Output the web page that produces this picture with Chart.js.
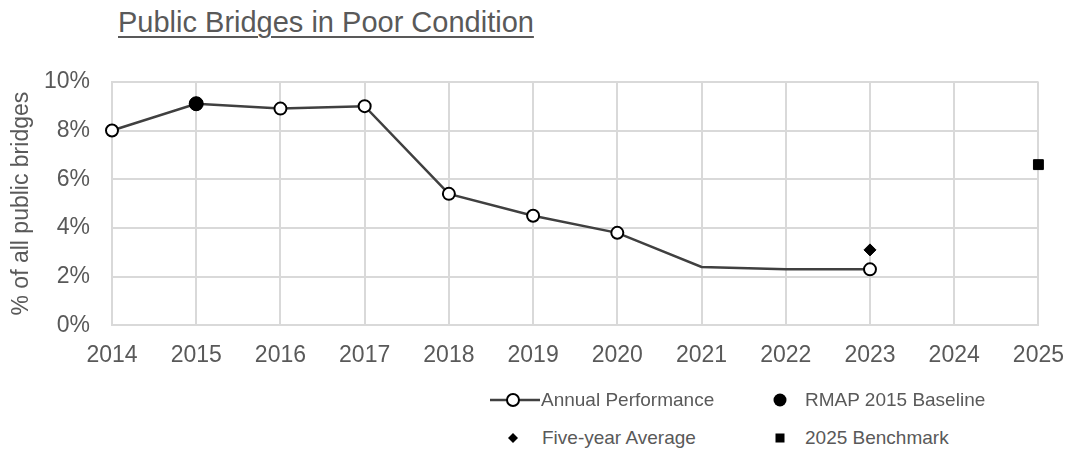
<!DOCTYPE html>
<html>
<head>
<meta charset="utf-8">
<script src="https://cdn.jsdelivr.net/npm/chart.js@4/dist/chart.umd.min.js"></script>
<style>
  body { margin: 0; background: #fff; font-family: 'Liberation Sans', Arial, sans-serif; overflow: hidden; }
  #wrap { position: relative; width: 1066px; height: 451px; overflow: hidden; }
  #title { position: absolute; left: 118px; top: 6px; font-size: 29px; color: #595959; text-decoration: underline; text-underline-offset: 4px; text-decoration-thickness: 2px; }
  #chartBox { position: absolute; left: 0; top: 46px; width: 1080px; height: 352px; }
  .leg { position: absolute; font-size: 19px; color: #595959; line-height: 20px; }
  .ico { position: absolute; }
</style>
</head>
<body>
<div id="wrap">
  <div id="title">Public Bridges in Poor Condition</div>
  <div id="chartBox"><canvas id="c"></canvas></div>

  <!-- legend -->
  <svg class="ico" style="left:488px;top:390px" width="54" height="20">
    <line x1="2" y1="10" x2="52" y2="10" stroke="#404040" stroke-width="2.5"/>
    <circle cx="25" cy="10" r="6" fill="#fff" stroke="#000" stroke-width="2"/>
  </svg>
  <div class="leg" style="left:541px;top:390px">Annual Performance</div>

  <svg class="ico" style="left:770px;top:390px" width="20" height="20">
    <circle cx="10" cy="10" r="6.5" fill="#000"/>
  </svg>
  <div class="leg" style="left:805px;top:390px">RMAP 2015 Baseline</div>

  <svg class="ico" style="left:503px;top:428px" width="20" height="20">
    <polygon points="10,5 15,10 10,15 5,10" fill="#000"/>
  </svg>
  <div class="leg" style="left:542px;top:428px">Five-year Average</div>

  <svg class="ico" style="left:770px;top:428px" width="20" height="20">
    <rect x="5.5" y="5.5" width="9" height="9" fill="#000"/>
  </svg>
  <div class="leg" style="left:805px;top:428px">2025 Benchmark</div>
</div>

<script>
// years on the x axis
const years = ['2014', '2015', '2016', '2017', '2018', '2019', '2020', '2021', '2022', '2023', '2024', '2025'];

// % of all public bridges in poor condition
const annualPerformance = [8.0, 9.1, 8.9, 9.0, 5.4, 4.5, 3.8, 2.4, 2.3, 2.3, null, null];
const rmapBaseline = [null, 9.1, null, null, null, null, null, null, null, null, null, null];
const fiveYearAverage = [null, null, null, null, null, null, null, null, null, 3.1, null, null];
const benchmark2025 = [null, null, null, null, null, null, null, null, null, null, null, 6.6];

const yTicks = [0, 2, 4, 6, 8, 10];

const TEXT = '#595959';
const GRID = '#d9d9d9';
const FONT = "'Liberation Sans', Arial, sans-serif";

// 2021 and 2022 are drawn without markers
const annualRadius = years.map(y => (y === '2021' || y === '2022') ? 0 : 6);

new Chart(document.getElementById('c'), {
  type: 'line',
  data: {
    labels: years,
    datasets: [
      {
        label: 'Annual Performance',
        data: annualPerformance,
        borderColor: '#404040',
        borderWidth: 2.5,
        pointRadius: annualRadius,
        pointBackgroundColor: '#fff',
        pointBorderColor: '#000',
        pointBorderWidth: 2,
        tension: 0,
        order: 4
      },
      {
        label: 'RMAP 2015 Baseline',
        data: rmapBaseline,
        showLine: false,
        pointStyle: 'circle',
        pointRadius: 7,
        pointBackgroundColor: '#000',
        pointBorderColor: '#000',
        order: 3
      },
      {
        label: 'Five-year Average',
        data: fiveYearAverage,
        showLine: false,
        pointStyle: 'rectRot',
        pointRadius: 6,
        pointBackgroundColor: '#000',
        pointBorderColor: '#000',
        order: 2
      },
      {
        label: '2025 Benchmark',
        data: benchmark2025,
        showLine: false,
        pointStyle: 'rect',
        pointRadius: 7,
        pointBackgroundColor: '#000',
        pointBorderColor: '#000',
        order: 1
      }
    ]
  },
  options: {
    responsive: true,
    maintainAspectRatio: false,
    animation: false,
    layout: { padding: { left: 8, right: 17, top: 26, bottom: 13 } },
    plugins: {
      legend: { display: false },
      tooltip: { enabled: false }
    },
    scales: {
      x: {
        offset: false,
        grid: { color: GRID, lineWidth: 2, drawTicks: false },
        border: { color: GRID, width: 2 },
        ticks: { color: TEXT, font: { family: FONT, size: 23 }, padding: 16, maxRotation: 0 }
      },
      y: {
        min: 0,
        max: 10,
        afterBuildTicks: axis => { axis.ticks = yTicks.map(v => ({ value: v })); },
        afterFit: axis => { axis.width = 104; },
        grid: { color: GRID, lineWidth: 2, drawTicks: false },
        border: { color: GRID, width: 2 },
        ticks: {
          color: TEXT,
          font: { family: FONT, size: 23 },
          padding: 22,
          callback: v => v + '%'
        },
        title: {
          display: true,
          text: '% of all public bridges',
          color: TEXT,
          font: { family: FONT, size: 23 },
          padding: { top: 0, bottom: 4 }
        }
      }
    }
  }
});
</script>
</body>
</html>
